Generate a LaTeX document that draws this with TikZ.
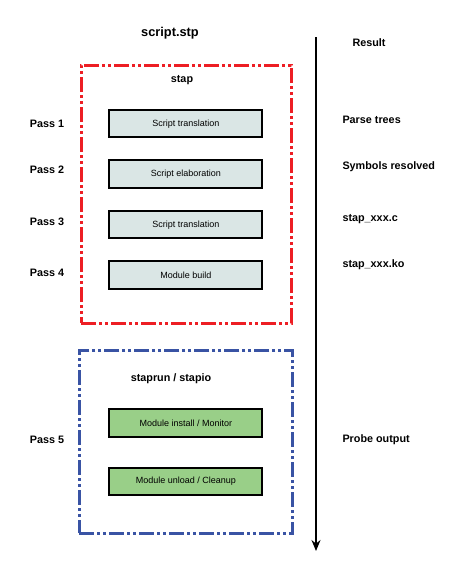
\documentclass[tikz,border=0pt]{standalone}
\usepackage{fontspec}
\setmainfont{Liberation Sans}
\usetikzlibrary{positioning,arrows.meta}
\definecolor{stapred}{RGB}{237,30,36}
\definecolor{stapblue}{RGB}{57,83,164}
\definecolor{boxgrey}{RGB}{218,230,229}
\definecolor{boxgreen}{RGB}{153,207,136}

\begin{document}
\begin{tikzpicture}[x=1pt, y=-1pt,
  block/.style={rectangle, draw, line width=2pt, minimum width=153pt, minimum height=27.5pt, inner sep=0pt, font=\fontsize{9}{10}\selectfont},
  frame/.style={rectangle, draw, line width=3pt, dash pattern=on 15pt off 3pt on 3pt off 3pt on 3pt off 3pt, inner sep=0pt},
  lbl/.style={font=\bfseries\fontsize{10.8}{12}\selectfont},
  node distance=50.5pt
]
\useasboundingbox (0,0) rectangle (449,566);

\node[lbl, font=\bfseries\fontsize{12.8}{14}\selectfont] (script) at (170,33) {script.stp};

% translator passes
\node[frame, draw=stapred, minimum width=210pt, minimum height=258pt] (stap) at (186,194) {};
\node[lbl] (stap_lbl) at (182,80) {stap};
\node[block, fill=boxgrey] (trans) at (185.8,123.7) {Script translation};
\node[block, fill=boxgrey, below of=trans] (elab) {Script elaboration};
\node[block, fill=boxgrey, below of=elab] (gen) {Script translation};
\node[block, fill=boxgrey, below of=gen] (build) {Module build};

% runtime
\node[frame, draw=stapblue, minimum width=213.5pt, minimum height=183pt] (run) at (186.2,441.5) {};
\node[lbl] (run_lbl) at (171,379) {staprun / stapio};
\node[block, fill=boxgreen] (install) at (185.8,423) {Module install / Monitor};
\node[block, fill=boxgreen, below of=install, node distance=58.5pt] (unload) {Module unload / Cleanup};

% pass labels
\node[lbl] (p1) at (47,124) {Pass 1};
\node[lbl] (p2) at (47,170) {Pass 2};
\node[lbl] (p3) at (47,222) {Pass 3};
\node[lbl] (p4) at (47,273) {Pass 4};
\node[lbl] (p5) at (47,440) {Pass 5};

% results
\node[lbl, anchor=west] (result) at (349,43) {Result};
\node[lbl, anchor=west] (r1) at (339,120) {Parse trees};
\node[lbl, anchor=west] (r2) at (339,167) {Symbols resolved};
\node[lbl, anchor=west] (r3) at (339,219) {stap\_xxx.c};
\node[lbl, anchor=west] (r4) at (339,265) {stap\_xxx.ko};
\node[lbl, anchor=west] (r5) at (339,440) {Probe output};

\coordinate (t_start) at (316,37);
\coordinate (t_end) at (316,551);
\draw[line width=1.3pt, -{Stealth[length=11pt, width=9pt]}] (t_start) -- (t_end);
\end{tikzpicture}
\end{document}
